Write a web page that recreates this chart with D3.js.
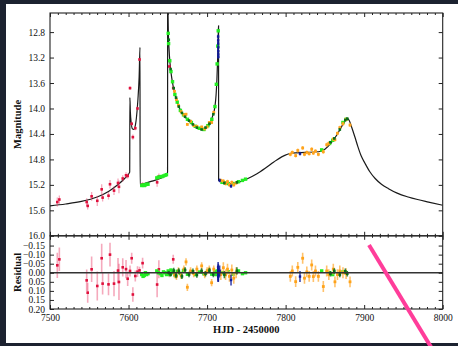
<!DOCTYPE html>
<html><head><meta charset="utf-8">
<script src="https://cdn.jsdelivr.net/npm/d3@7"></script>
<style>html,body{margin:0;padding:0;background:#1c2230;overflow:hidden}</style>
</head><body>
<script>
// ---------- DATA ----------
const xTicks = [7500, 7600, 7700, 7800, 7900, 8000];
const magTicks = [12.8, 13.2, 13.6, 14.0, 14.4, 14.8, 15.2, 15.6, 16.0];
const resTicks = [-0.15, -0.10, -0.05, 0.00, 0.05, 0.10, 0.15, 0.20];

const modelHJD = [7500,7520,7540,7560,7575,7585,7595,7601.5,7601.7,7602.3,7603.3,7605,7606.5,7608,7610,7612,7613.5,7614.6,7614.7,7620,7630,7640,7648,7649.7,7649.8,7650.2,7650.7,7651.5,7652.8,7655,7657,7660,7663.4,7667,7671.9,7677,7682.5,7688,7693,7698,7703.7,7707,7710,7711.5,7712.5,7713.5,7714.3,7714.6,7714.7,7720,7731,7740,7752,7763,7774,7785,7795,7808,7825,7842,7850,7858,7865,7873,7877,7879,7881,7884,7888,7892,7896,7901,7907,7914,7922,7931,7942,7956,7968,7982,8000];
const modelMag = [15.53,15.50,15.46,15.39,15.30,15.21,15.10,15.00,13.83,14.05,14.22,14.32,14.33,14.30,14.15,13.85,13.50,13.04,15.20,15.18,15.14,15.10,15.04,15.00,12.20,12.45,12.82,13.05,13.29,13.52,13.66,13.82,13.95,14.05,14.13,14.20,14.26,14.31,14.33,14.31,14.24,14.12,13.97,13.78,13.55,13.20,12.80,12.70,15.13,15.16,15.18,15.16,15.10,15.03,14.94,14.84,14.76,14.70,14.69,14.68,14.64,14.54,14.42,14.25,14.18,14.16,14.19,14.29,14.44,14.60,14.74,14.86,14.99,15.10,15.19,15.26,15.33,15.39,15.43,15.47,15.52];

const redHJD = [7509.3,7511.9,7546.7,7548.0,7553.0,7560.2,7565.8,7567.0,7574.5,7576.4,7581.5,7586.6,7587.8,7592.6,7596.8,7598.9,7601.9,7604.0,7605.5,7608.6,7611.4,7614.0,7617.9,7636.4,7638.6,7652.0,7656.9];
const redMag = [15.47,15.43,15.47,15.53,15.38,15.45,15.27,15.40,15.37,15.19,15.29,15.17,15.23,15.10,15.05,15.06,13.68,14.24,14.45,14.31,14.00,13.23,15.19,15.16,15.07,13.34,13.68];
const redErr = [0.07,0.065,0.06,0.055,0.07,0.08,0.08,0.06,0.06,0.065,0.07,0.07,0.1,0.05,0.05,0.04,0.03,0.03,0.04,0.03,0.03,0.02,0.03,0.07,0.05,0.02,0.025];
const redRes = [-0.041,-0.074,0.042,0.110,-0.019,0.073,-0.080,0.060,0.064,-0.100,0.060,-0.012,0.051,-0.030,-0.020,0.033,-0.010,-0.080,0.120,0.018,-0.006,-0.013,-0.053,0.065,-0.019,0.005,-0.074];

const greenHJD = [7616.8,7618.5,7620.0,7621.5,7623.0,7624.8,7636.0,7638.0,7640.5,7642.5,7644.5,7646.5,7648.3,7650.5,7651.0,7652.5,7654.0,7656.0,7659.0,7662.0,7666.0,7670.0,7675.0,7680.0,7685.0,7690.0,7696.0,7701.0,7706.0,7710.0,7711.8,7712.8,7713.6,7714.2,7719,7723,7727,7733,7740,7745,7749,7845.9,7856,7860,7873,7877];
const greenMag = [15.21,15.20,15.21,15.20,15.19,15.19,15.09,15.08,15.07,15.07,15.06,15.05,15.04,12.82,12.98,13.25,13.42,13.58,13.78,13.90,14.03,14.10,14.17,14.22,14.28,14.31,14.33,14.27,14.17,13.97,13.62,13.30,13.02,12.78,15.16,15.17,15.18,15.18,15.15,15.13,15.11,14.65,14.55,14.50,14.22,14.17];
const greenRes = [0.010,0.020,0.015,0.000,0.010,0.005,-0.010,0.000,0.005,0.015,-0.005,0.000,0.010,-0.010,0.005,0.010,-0.015,0.000,0.012,-0.008,0.004,-0.012,0.008,-0.006,0.010,-0.004,0.006,-0.010,0.008,-0.005,0.010,-0.010,0.000,0.005,0.000,0.010,-0.005,0.008,-0.010,0.005,0.000,-0.010,0.000,0.010,-0.005,0.000];

const dgreenHJD = [7651.2,7653.5,7657.5,7660.5,7664,7668,7672,7677,7682,7687,7693,7698,7703,7708,7722,7738,7857,7862,7869,7876,7878.5];
const dgreenMag = [12.92,13.38,13.68,13.83,13.97,14.07,14.13,14.19,14.25,14.30,14.33,14.30,14.24,14.09,15.17,15.16,14.53,14.47,14.33,14.18,14.16];
const dgreenErr = [0.01,0.01,0.015,0.015,0.015,0.015,0.015,0.015,0.015,0.015,0.015,0.015,0.015,0.015,0.02,0.02,0.015,0.015,0.015,0.015,0.015];
const dgreenRes = [0.000,0.010,-0.012,0.015,-0.010,0.020,-0.015,0.010,-0.008,0.012,-0.010,0.005,-0.012,0.010,0.010,-0.010,0.005,-0.010,0.010,-0.008,0.005];

const orangeHJD = [7658.5,7661,7663.5,7667,7670.5,7673.2,7674.9,7679,7683,7687,7693.1,7697,7700,7702.8,7705.8,7708.5,7717.5,7720.7,7723.5,7726,7728.5,7731.5,7734,7737,7806,7808.5,7812.8,7815.5,7821.7,7824,7827,7830,7833.2,7835.3,7838,7841.7,7848,7852.3,7855,7860.7,7862.8,7866,7869,7873,7877,7882];
const orangeMag = [13.73,13.86,13.95,14.05,14.10,14.09,14.25,14.20,14.27,14.28,14.29,14.32,14.29,14.22,14.22,14.06,15.13,15.14,15.18,15.15,15.20,15.16,15.20,15.17,14.72,14.69,14.74,14.66,14.62,14.72,14.69,14.71,14.64,14.70,14.67,14.72,14.68,14.57,14.55,14.48,14.49,14.39,14.30,14.24,14.17,14.26];
const orangeErr = [0.02,0.02,0.02,0.02,0.02,0.02,0.02,0.02,0.02,0.02,0.02,0.02,0.02,0.02,0.02,0.02,0.03,0.03,0.03,0.03,0.03,0.03,0.03,0.03,0.03,0.03,0.03,0.03,0.03,0.03,0.03,0.03,0.03,0.03,0.03,0.03,0.03,0.03,0.03,0.03,0.03,0.03,0.03,0.03,0.03,0.03];
const orangeRes = [0.010,0.020,-0.010,0.015,-0.020,-0.060,0.080,-0.010,0.005,-0.020,-0.038,0.010,-0.010,-0.020,0.055,-0.020,0.010,-0.028,0.010,-0.020,0.020,-0.015,0.030,0.000,0.020,-0.010,0.049,-0.030,-0.080,0.030,-0.005,0.020,-0.043,0.021,-0.010,0.020,0.076,-0.010,0.010,-0.020,0.050,0.010,-0.010,0.000,0.005,0.050];

const blueHJD = [7714.05,7714.1,7714.15,7714.2,7714.25,7714.3,7714.35,7716,7730.5,7818.3];
const blueMag = [12.87,12.93,12.98,13.04,13.10,13.15,13.19,15.13,15.22,14.71];
const blueErr = [0.03,0.03,0.03,0.04,0.04,0.03,0.03,0.03,0.03,0.03];
const blueRes = [-0.030,0.020,-0.010,0.010,0.000,-0.020,0.020,-0.010,0.040,0.021];

// ---------- LAYOUT ----------
const W = 458, H = 346;
const svg = d3.select("body").append("svg").attr("width", W).attr("height", H)
  .style("display","block");
const FONT = "Liberation Serif, Times New Roman, serif";

svg.append("rect").attr("width", W).attr("height", H).attr("fill", "#1c2230");
svg.append("rect").attr("x", 6).attr("y", 4).attr("width", W - 6).attr("height", 339).attr("fill", "#ffffff");

const X0 = 50, X1 = 442.7, YT = 13, YM = 235.8, YB = 309;
const x = d3.scaleLinear().domain([7500, 8000]).range([X0, X1]);
const y = d3.scaleLinear().domain([12.5, 16.0]).range([YT, YM]);
const yr = d3.scaleLinear().domain([-0.2, 0.2]).range([YM + 0.7, YB]);

const defs = svg.append("defs");
defs.append("clipPath").attr("id","cm").append("rect").attr("x",X0).attr("y",YT).attr("width",X1-X0).attr("height",YM-YT);
defs.append("clipPath").attr("id","cr").append("rect").attr("x",X0).attr("y",YM).attr("width",X1-X0).attr("height",YB-YM);

const gMain = svg.append("g").attr("clip-path","url(#cm)");
const gRes = svg.append("g").attr("clip-path","url(#cr)");

// model curve
const line = d3.line().x((d,i)=>x(modelHJD[i])).y((d,i)=>y(modelMag[i])).curve(d3.curveMonotoneX);
gMain.append("path").datum(modelMag).attr("d", line).attr("fill","none")
  .attr("stroke","#1a1a1a").attr("stroke-width",1.2);

function drawSet(hjd, mag, err, res, color, barColor, barOpacity, size) {
  const idx = d3.range(hjd.length);
  if (err) {
    gMain.selectAll(null).data(idx).enter().append("line")
      .attr("x1", i=>x(hjd[i])).attr("x2", i=>x(hjd[i]))
      .attr("y1", i=>y(mag[i]-err[i])).attr("y2", i=>y(mag[i]+err[i]))
      .attr("stroke", barColor).attr("stroke-opacity", barOpacity).attr("stroke-width",1.3);
    gRes.selectAll(null).data(idx).enter().append("line")
      .attr("x1", i=>x(hjd[i])).attr("x2", i=>x(hjd[i]))
      .attr("y1", i=>yr(res[i]-err[i])).attr("y2", i=>yr(res[i]+err[i]))
      .attr("stroke", barColor).attr("stroke-opacity", barOpacity).attr("stroke-width",1.6);
  }
  gMain.selectAll(null).data(idx).enter().append("rect")
    .attr("x", i=>x(hjd[i])-size/2).attr("y", i=>y(mag[i])-size/2)
    .attr("width", size).attr("height", size).attr("fill", color);
  gRes.selectAll(null).data(idx).enter().append("rect")
    .attr("x", i=>x(hjd[i])-size/2).attr("y", i=>yr(res[i])-size/2)
    .attr("width", size).attr("height", size).attr("fill", color);
}

drawSet(redHJD, redMag, redErr, redRes, "#e0103c", "#e8416a", 0.45, 2.6);
drawSet(greenHJD, greenMag, null, greenRes, "#22ee22", null, 0, 3.4);
drawSet(orangeHJD, orangeMag, orangeErr, orangeRes, "#ffa31a", "#ffb347", 0.8, 2.8);
drawSet(dgreenHJD, dgreenMag, dgreenErr, dgreenRes, "#0a6e1a", "#0a6e1a", 0.8, 2.6);
drawSet(blueHJD, blueMag, blueErr, blueRes, "#101a9a", "#101a9a", 0.8, 2.4);

// zero line in residual panel
gRes.append("line").attr("x1", X0).attr("x2", X1).attr("y1", yr(0)).attr("y2", yr(0))
  .attr("stroke","#333").attr("stroke-width",1.3);

// frames
svg.append("rect").attr("x",X0).attr("y",YT).attr("width",X1-X0).attr("height",YM-YT)
  .attr("fill","none").attr("stroke","#222").attr("stroke-width",1.1);
svg.append("rect").attr("x",X0).attr("y",YM).attr("width",X1-X0).attr("height",YB-YM)
  .attr("fill","none").attr("stroke","#222").attr("stroke-width",1.1);

// axes
const minorX = d3.range(7510, 8000, 10).filter(v => v % 100 !== 0);
function styleAxis(g) {
  g.select(".domain").remove();
  g.selectAll(".tick line").attr("stroke","#222");
  g.selectAll("text").attr("font-family", FONT).attr("font-size", 9.5).attr("fill","#111");
}
function xAxes(yTop, yBot, labels) {
  svg.append("g").attr("transform",`translate(0,${yTop})`)
    .call(d3.axisTop(x).tickValues(xTicks).tickSize(-4).tickFormat("")).call(styleAxis);
  svg.append("g").attr("transform",`translate(0,${yTop})`)
    .call(d3.axisTop(x).tickValues(minorX).tickSize(-2).tickFormat("")).call(styleAxis);
  svg.append("g").attr("transform",`translate(0,${yBot})`)
    .call(d3.axisBottom(x).tickValues(xTicks).tickSize(-4).tickPadding(labels ? 5 : 0)
      .tickFormat(labels ? d3.format("d") : "")).call(styleAxis);
  svg.append("g").attr("transform",`translate(0,${yBot})`)
    .call(d3.axisBottom(x).tickValues(minorX).tickSize(-2).tickFormat("")).call(styleAxis);
}
xAxes(YT, YM, false);
xAxes(YM, YB, true);

svg.append("g").attr("transform",`translate(${X0},0)`)
  .call(d3.axisLeft(y).tickValues(magTicks).tickSize(-4).tickPadding(5).tickFormat(d3.format(".1f"))).call(styleAxis);
svg.append("g").attr("transform",`translate(${X1},0)`)
  .call(d3.axisRight(y).tickValues(magTicks).tickSize(-4).tickFormat("")).call(styleAxis);
svg.append("g").attr("transform",`translate(${X0},0)`)
  .call(d3.axisLeft(yr).tickValues(resTicks).tickSize(-4).tickPadding(5).tickFormat(d3.format(".2f"))).call(styleAxis);
svg.append("g").attr("transform",`translate(${X1},0)`)
  .call(d3.axisRight(yr).tickValues(resTicks).tickSize(-4).tickFormat("")).call(styleAxis);

// axis titles
svg.append("text").attr("transform",`translate(20.5,${(YT+YM)/2}) rotate(-90)`)
  .attr("text-anchor","middle").attr("font-family",FONT).attr("font-size",10.5)
  .attr("font-weight","bold").attr("fill","#111").text("Magnitude");
svg.append("text").attr("transform",`translate(20.5,${(YM+YB)/2}) rotate(-90)`)
  .attr("text-anchor","middle").attr("font-family",FONT).attr("font-size",10.5)
  .attr("font-weight","bold").attr("fill","#111").text("Residual");
svg.append("text").attr("x",(X0+X1)/2).attr("y",333)
  .attr("text-anchor","middle").attr("font-family",FONT).attr("font-size",10.5)
  .attr("font-weight","bold").attr("fill","#111").text("HJD - 2450000");

// pink annotation stroke
svg.append("line").attr("x1",369).attr("y1",245).attr("x2",431).attr("y2",347)
  .attr("stroke","#ff3d9a").attr("stroke-width",4);
</script>
</body></html>
